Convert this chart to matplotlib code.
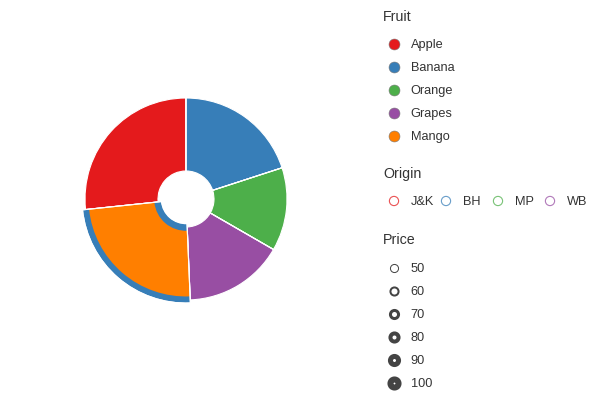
import matplotlib
matplotlib.use("Agg")
import matplotlib.pyplot as plt

fruits = ["Apple", "Banana", "Orange", "Grapes", "Mango"]
prices = [100, 75, 50, 60, 90]
fruit_colors = ["#e41a1c", "#377eb8", "#4daf4a", "#984ea3", "#ff7f00"]
origins = ["J&K", "BH", "MP", "WB"]
origin_colors = ["#e41a1c", "#377eb8", "#4daf4a", "#984ea3"]
mango_origin_color = "#377eb8"
price_legend = [50, 60, 70, 80, 90, 100]

plt.rcParams["font.family"] = ["Liberation Sans", "DejaVu Sans"]
W, H = 600, 400
fig = plt.figure(figsize=(6, 4), dpi=100)

# ---- donut ----
cx, cy, R = 186, 199, 101
ax = fig.add_axes([(cx - R) / W, (H - cy - R) / H, 2 * R / W, 2 * R / H])
total = sum(prices)
start = 90 + 360 * prices[0] / total
inner = 28 / R

base_colors = [mango_origin_color if f == "Mango" else c for f, c in zip(fruits, fruit_colors)]
ax.pie(prices, colors=base_colors, startangle=start, counterclock=False, radius=1.0,
       wedgeprops=dict(width=1.0 - inner, edgecolor="white", linewidth=0.8))
band_cols = [mango_origin_color if f == "Mango" else "none" for f in fruits]
ax.pie(prices, colors=band_cols, startangle=start, counterclock=False, radius=1.025,
       wedgeprops=dict(width=1.025 - 0.25, linewidth=0))
fill_cols = [c if f == "Mango" else "none" for f, c in zip(fruits, fruit_colors)]
ax.pie(prices, colors=fill_cols, startangle=start, counterclock=False, radius=0.965,
       wedgeprops=dict(width=0.965 - 0.315, linewidth=0))
ax.pie(prices, colors=["none"] * len(fruits), startangle=start, counterclock=False, radius=1.03,
       wedgeprops=dict(width=1.03 - 0.24, edgecolor="white", linewidth=0.8))
ax.set_xlim(-1.0, 1.0)
ax.set_ylim(-1.0, 1.0)
ax.set_aspect("equal")
ax.axis("off")

# ---- legends ----
lg = fig.add_axes([0, 0, 1, 1])
lg.set_xlim(0, W)
lg.set_ylim(H, 0)
lg.axis("off")
txt = "#333333"
title_x, sym_x, lab_x = 383, 394, 410.5
tfs, lfs = 10.3, 9.2

lg.text(title_x, 20.7, "Fruit", fontsize=tfs, color=txt, va="baseline", ha="left")
for i, (f, c) in enumerate(zip(fruits, fruit_colors)):
    y = 44 + i * 23
    lg.scatter([sym_x], [y], s=62, color=c, edgecolors="#777777", linewidths=0.4, zorder=3)
    lg.text(lab_x, y + 4.4, f, fontsize=lfs, color=txt, va="baseline", ha="left")

lg.text(title_x, 177.7, "Origin", fontsize=tfs, color=txt, va="baseline", ha="left")
for i, (o, c) in enumerate(zip(origins, origin_colors)):
    x = 394 + i * 52
    lg.scatter([x], [201], s=44, facecolors="none", edgecolors=c, linewidths=0.8, alpha=0.75, zorder=3)
    lg.text(x + 16.5, 201 + 4.4, o, fontsize=lfs, color=txt, va="baseline", ha="left")

lg.text(title_x, 244, "Price", fontsize=tfs, color=txt, va="baseline", ha="left")
for i, p in enumerate(price_legend):
    y = 268 + i * 22.9
    lw_px = 1 + (p - 50) / 50 * 5.0
    lg.scatter([393.5], [y], s=34, facecolors="white", edgecolors="#444444",
               linewidths=lw_px * 72 / 100, zorder=3)
    lg.text(lab_x, y + 4.4, str(p), fontsize=lfs, color=txt, va="baseline", ha="left")

fig.savefig("out.png", dpi=100)
